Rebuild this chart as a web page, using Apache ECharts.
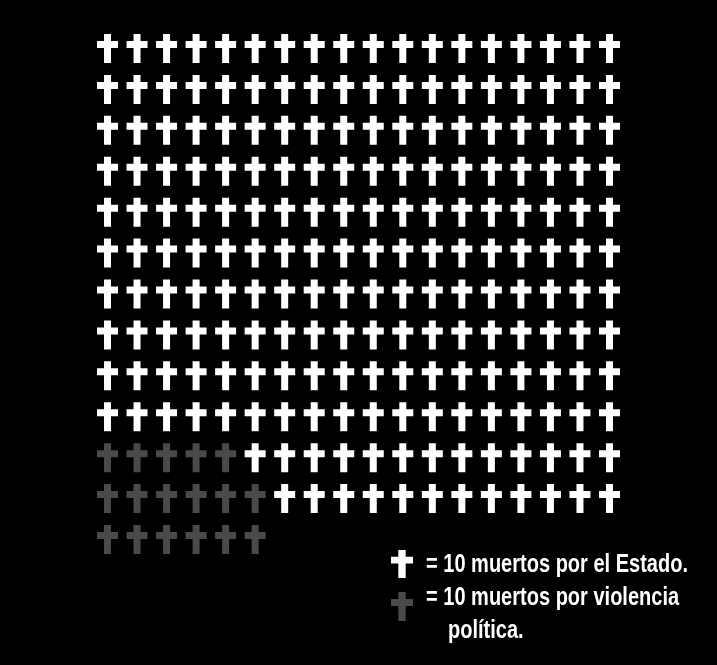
<!DOCTYPE html>
<html><head><meta charset="utf-8">
<script src="https://cdn.jsdelivr.net/npm/echarts@6/dist/echarts.min.js"></script>
<style>html,body{margin:0;padding:0;background:#000;}#c{width:717px;height:665px;}</style>
</head><body><div id="c"></div>
<script>
// Data: each cross = 10 deaths
const columns = 18;
const violenceByRow = [0,0,0,0,0,0,0,0,0,0,5,6,6];       // grey crosses (first in each row)
const stateByRow    = [18,18,18,18,18,18,18,18,18,18,13,12,0]; // white crosses
const legendTexts = ['= 10 muertos por el Estado.', '= 10 muertos por violencia', 'política.'];

const WHITE = '#ffffff', GREY = '#4a4a4a';
const crossPath = 'path://M7 0H14V7H21V14H14V29H7V14H0V7H7Z';

const violencePts = [], statePts = [];
violenceByRow.forEach((n, r) => {
  for (let c = 0; c < n; c++) violencePts.push([c, r]);
  for (let c = 0; c < stateByRow[r]; c++) statePts.push([n + c, r]);
});

const FONT = 'bold 26px "Liberation Sans", Arial, sans-serif';
const cv = document.createElement('canvas').getContext('2d');
cv.font = FONT;
function fitScale(t, w) { return w / cv.measureText(t).width; }

function crossPoly(x, y, w, h) {
  const a = w / 3, b = 2 * w / 3, t = h * 7 / 29, u = h * 14 / 29;
  return [[x+a,y],[x+b,y],[x+b,y+t],[x+w,y+t],[x+w,y+u],[x+b,y+u],[x+b,y+h],[x+a,y+h],[x+a,y+u],[x,y+u],[x,y+t],[x+a,y+t]];
}

const chart = echarts.init(document.getElementById('c'));
const sx = fitScale(legendTexts[0], 262);
chart.setOption({
  backgroundColor: '#000',
  animation: false,
  grid: { left: 107.5, right: 107.5, top: 48.5, bottom: 125.5 },
  xAxis: { type: 'value', min: 0, max: columns - 1, show: false },
  yAxis: { type: 'value', min: 0, max: violenceByRow.length - 1, inverse: true, show: false },
  series: [
    { type: 'scatter', data: statePts, symbol: crossPath, symbolSize: [21, 29], itemStyle: { color: WHITE, opacity: 1 }, silent: true },
    { type: 'scatter', data: violencePts, symbol: crossPath, symbolSize: [21, 29], itemStyle: { color: GREY, opacity: 1 }, silent: true }
  ],
  graphic: [
    { type: 'polygon', shape: { points: crossPoly(391, 550, 22, 28) }, style: { fill: WHITE } },
    { type: 'polygon', shape: { points: crossPoly(391, 592, 22, 29) }, style: { fill: GREY } },
    { type: 'text', x: 426, y: 564.5, scaleX: sx, style: { text: legendTexts[0], font: FONT, fill: WHITE, verticalAlign: 'middle' } },
    { type: 'text', x: 426, y: 598, scaleX: sx, style: { text: legendTexts[1], font: FONT, fill: WHITE, verticalAlign: 'middle' } },
    { type: 'text', x: 448, y: 631, scaleX: sx, style: { text: legendTexts[2], font: FONT, fill: WHITE, verticalAlign: 'middle' } }
  ]
});
</script></body></html>
